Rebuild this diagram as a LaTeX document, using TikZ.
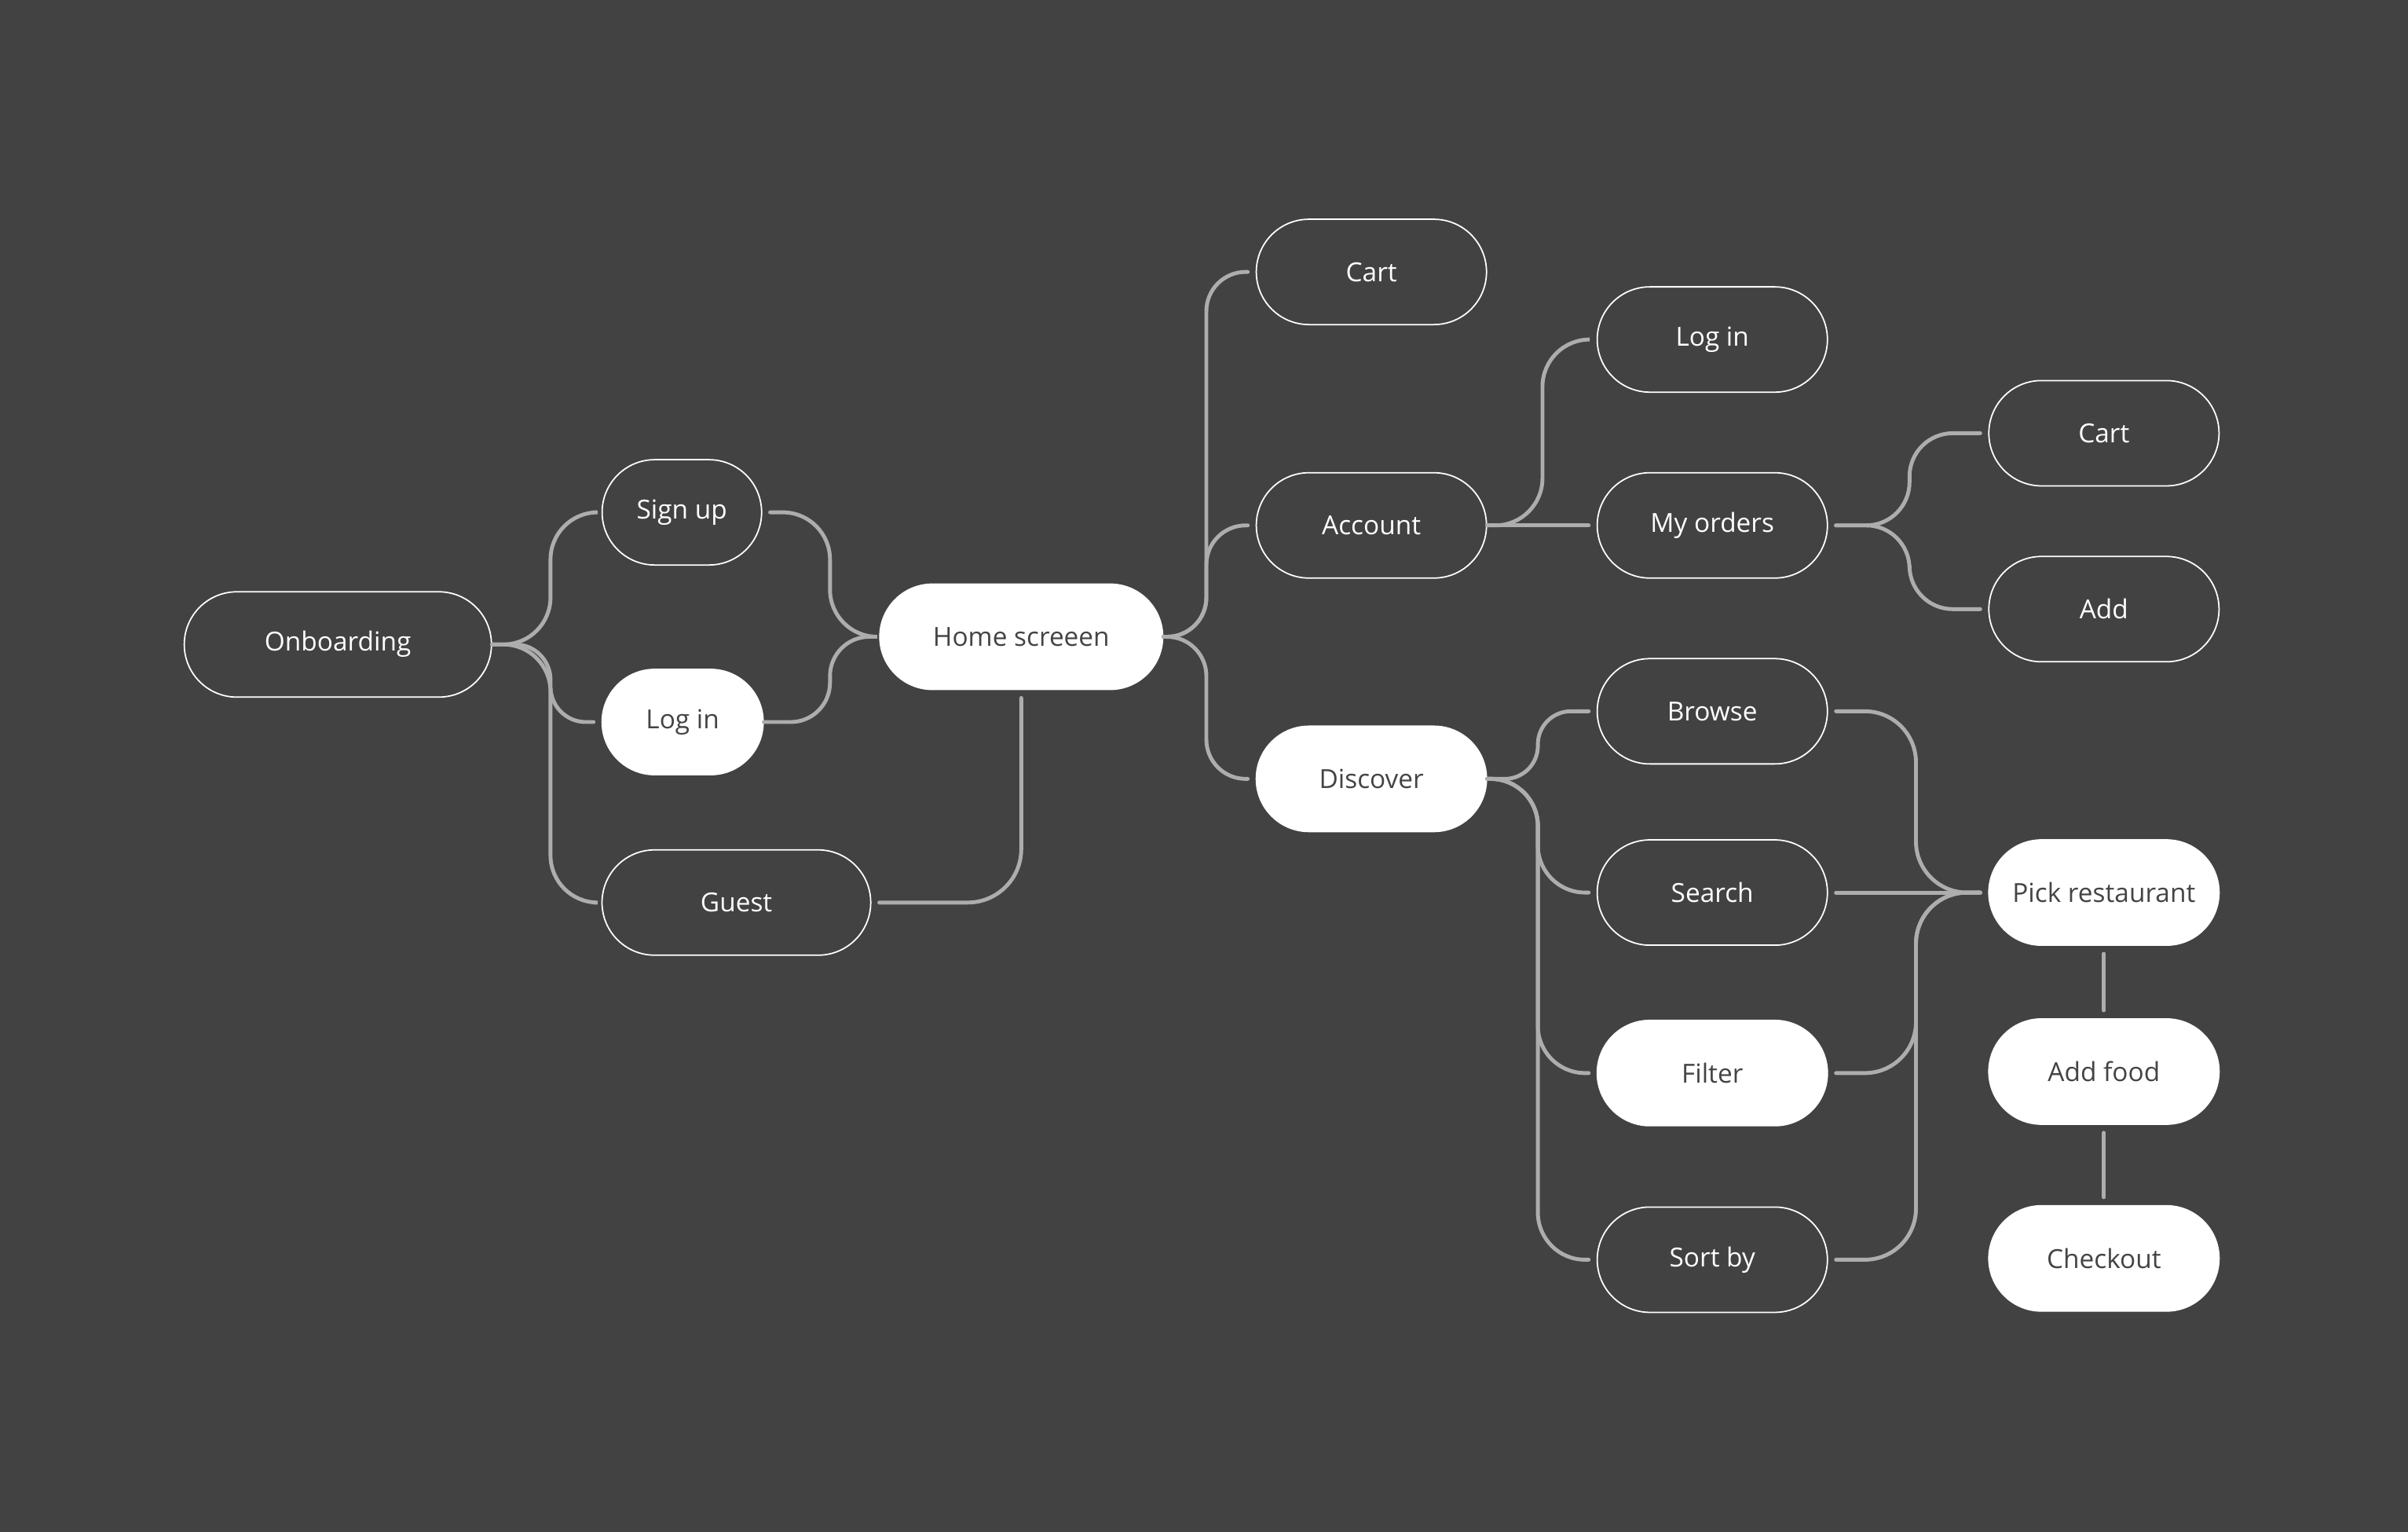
\documentclass[tikz,border=0pt]{standalone}
\usepackage{fontspec}
\setmainfont{Open Sans}
\usetikzlibrary{positioning,calc}
\definecolor{bgdark}{HTML}{424242}
\definecolor{wire}{HTML}{ADADAD}
\definecolor{ink}{HTML}{444444}

\begin{document}
\begin{tikzpicture}[
  x=0.019554cm, y=-0.019554cm,
  font=\fontsize{9.5}{11}\selectfont,
  pill/.style={draw=white, line width=0.5pt, rounded corners=0.67cm, align=center,
               minimum height=1.34cm, minimum width=2.93cm, inner sep=0pt, text=white},
  pillw/.style={pill, fill=white, text=ink},
  link/.style={draw=wire, line width=1.4pt, line cap=round, rounded corners=0.6cm,
               shorten >=0.1cm},
  gap/.style={shorten <=0.1cm},
]
% Background
\fill[bgdark] (0,0) rectangle (1568,997);

% Entry
\node[pill, minimum width=3.91cm] (onb) at (220,419.5) {Onboarding};
\node[pill, minimum width=2.03cm] (sign_up) at (444,333.5) {Sign up};
\node[pillw, minimum width=2.05cm] (log_in) at (444.5,470) {Log in};
\node[pill, minimum width=3.42cm] (guest) at (479.5,587.5) {Guest};
\node[pillw, minimum width=3.60cm] (home) at (665,414.5) {Home screeen};

% Home branches
\node[pill] (cart) at (893,177) {Cart};
\node[pill] (account) at (893,342) {Account};
\node[pillw] (discover) at (893,507) {Discover};

% Account
\node[pill] (acc_login) at (1115,221) {Log in};
\node[pill] (orders) at (1115,342) {My orders};
\node[pill] (ord_cart) at (1370,282) {Cart};
\node[pill] (ord_add) at (1370,396.5) {Add};

% Discover
\node[pill] (browse) at (1115,463) {Browse};
\node[pill] (search) at (1115,581) {Search};
\node[pillw] (filter) at (1115,698.5) {Filter};
\node[pill] (sort_by) at (1115,820) {Sort by};

% Order flow
\node[pillw] (pick) at (1370,581) {Pick restaurant};
\node[pillw, below=0.92cm of pick] (add_food) {Add food};
\node[pillw, below=1.02cm of add_food] (checkout) {Checkout};

% Junctions
\coordinate (j_onb) at ($(onb.east)+(38,0)$);
\coordinate (j_home) at ($(home.west)+(-32,0)$);
\coordinate (j_out) at ($(home.east)+(28,0)$);
\coordinate (j_acc) at ($(account.east)+(36,0)$);
\coordinate (j_ord) at ($(orders.east)+(53,0)$);
\coordinate (j_disc) at ($(discover.east)+(33,0)$);
\coordinate (j_pick) at ($(pick.west)+(-47,0)$);

% Flows
\draw[link] (onb.east) -- (j_onb) |- (sign_up.west);
\draw[link, rounded corners=0.45cm] (onb.east) -- (j_onb) |- (log_in.west);
\draw[link] (onb.east) -- (j_onb) |- (guest.west);

\draw[link, gap] (sign_up.east) -| (j_home) -- (home.west);
\draw[link, rounded corners=0.5cm] (log_in.east) -| (j_home) -- (home.west);
\draw[link, gap, rounded corners=0.68cm] (guest.east) -| (home.south);

\draw[link, rounded corners=0.5cm] (home.east) -- (j_out) |- (cart.west);
\draw[link, rounded corners=0.5cm] (home.east) -- (j_out) |- (account.west);
\draw[link, rounded corners=0.5cm] (home.east) -- (j_out) |- (discover.west);

\draw[link] (account.east) -- (j_acc) |- (acc_login.west);
\draw[link] (account.east) -- (orders.west);

\draw[link, gap, rounded corners=0.55cm] (orders.east) -- (j_ord) |- (ord_cart.west);
\draw[link, gap, rounded corners=0.55cm] (orders.east) -- (j_ord) |- (ord_add.west);

\draw[link, rounded corners=0.42cm] (discover.east) -- (j_disc) |- (browse.west);
\draw[link] (discover.east) -- (j_disc) |- (search.west);
\draw[link] (discover.east) -- (j_disc) |- (filter.west);
\draw[link] (discover.east) -- (j_disc) |- (sort_by.west);

\draw[link, gap, rounded corners=0.65cm] (browse.east) -| (j_pick) -- (pick.west);
\draw[link, gap] (search.east) -- (pick.west);
\draw[link, gap, rounded corners=0.65cm] (filter.east) -| (j_pick) -- (pick.west);
\draw[link, gap, rounded corners=0.65cm] (sort_by.east) -| (j_pick) -- (pick.west);

\draw[link, gap] (pick) -- (add_food);
\draw[link, gap] (add_food) -- (checkout);
\end{tikzpicture}
\end{document}
